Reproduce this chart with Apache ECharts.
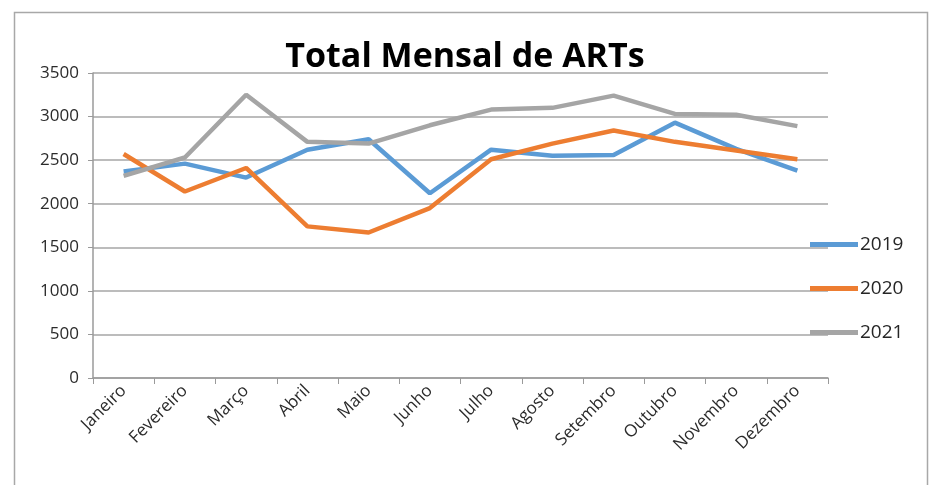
<!DOCTYPE html>
<html>
<head>
<meta charset="utf-8">
<script src="https://cdn.jsdelivr.net/npm/echarts@6/dist/echarts.min.js"></script>
<style>
  html, body { margin: 0; padding: 0; background: #fff; }
  #chart { width: 930px; height: 485px; }
</style>
</head>
<body>
<div id="chart"></div>
<script>
// meses (eixo x)
const months = ['Janeiro', 'Fevereiro', 'Março', 'Abril', 'Maio', 'Junho',
  'Julho', 'Agosto', 'Setembro', 'Outubro', 'Novembro', 'Dezembro'];
// totais mensais por ano
const arts2019 = [2370, 2460, 2300, 2620, 2740, 2120, 2620, 2550, 2560, 2930, 2630, 2380];
const arts2020 = [2570, 2140, 2410, 1740, 1670, 1950, 2510, 2690, 2840, 2710, 2610, 2510];
const arts2021 = [2320, 2530, 3250, 2710, 2690, 2900, 3080, 3100, 3240, 3030, 3020, 2890];
const yTicks = [0, 500, 1000, 1500, 2000, 2500, 3000, 3500];

const font = '"Open Sans", sans-serif';

function lineItem(name, data, color) {
  return {
    name: name,
    type: 'line',
    data: data,
    showSymbol: false,
    symbol: 'none',
    lineStyle: { width: 4.5, color: color },
    itemStyle: { color: color }
  };
}

const chart = echarts.init(document.getElementById('chart'));
chart.setOption({
  animation: false,
  title: {
    text: 'Total Mensal de ARTs',
    left: 'center',
    top: 35,
    textStyle: { fontFamily: font, fontWeight: 'bold', fontSize: 34, color: '#000' }
  },
  legend: {
    orient: 'vertical',
    left: 805,
    top: 230,
    icon: 'rect',
    itemWidth: 48,
    itemHeight: 5,
    itemGap: 25,
    textStyle: { fontFamily: font, fontSize: 19, color: '#262626', padding: [0, 0, 0, -3] },
    data: ['2019', '2020', '2021']
  },
  grid: { left: 93, top: 73, right: 102, bottom: 107 },
  xAxis: {
    type: 'category',
    data: months,
    boundaryGap: true,
    axisLine: { lineStyle: { color: '#9a9a9a', width: 1.5 } },
    axisTick: { show: true, length: 6, lineStyle: { color: '#9a9a9a' } },
    axisLabel: { rotate: 45, fontFamily: font, fontSize: 17, color: '#2b2b2b', margin: 10, interval: 0 }
  },
  yAxis: {
    type: 'value',
    min: yTicks[0],
    max: yTicks[yTicks.length - 1],
    interval: 500,
    axisLine: { show: true, lineStyle: { color: '#9a9a9a', width: 1.5 } },
    axisTick: { show: true, length: 5, lineStyle: { color: '#9a9a9a' } },
    axisLabel: { fontFamily: font, fontSize: 17, color: '#2b2b2b', margin: 14, formatter: v => String(v) },
    splitLine: { lineStyle: { color: '#a6a6a6', width: 1.5 } }
  },
  graphic: [{
    type: 'rect',
    left: 12, top: 10,
    shape: { width: 913, height: 480 },
    style: { fill: 'none', stroke: '#a8a8a8', lineWidth: 1.5 },
    silent: true
  }],
  series: [
    lineItem('2019', arts2019, '#5B9BD5'),
    lineItem('2020', arts2020, '#ED7D31'),
    lineItem('2021', arts2021, '#A5A5A5')
  ]
});
</script>
</body>
</html>
